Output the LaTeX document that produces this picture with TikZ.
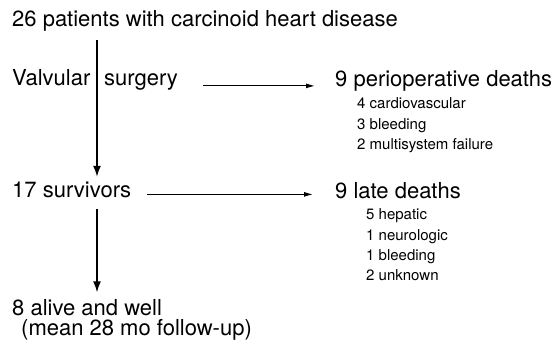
\documentclass[tikz,border=0pt]{standalone}
\usepackage{fontspec}
\setmainfont{TeX Gyre Heros}
\usetikzlibrary{arrows.meta,calc}

\begin{document}
\begin{tikzpicture}[x=1pt,y=1pt]
\tikzstyle{lbl}=[anchor=base west,inner sep=0pt,font=\fontsize{22}{24}\selectfont]
\tikzstyle{sub}=[anchor=base west,inner sep=0pt,font=\fontsize{15}{17}\selectfont]
\tikzstyle{vflow}=[line width=1.6pt,-{Latex[length=11pt,width=8pt]}]
\tikzstyle{hflow}=[line width=1.1pt,-{Latex[length=9pt,width=5pt]}]
\useasboundingbox (0,0) rectangle (555,349);
\coordinate (spine) at (97,0);
% left column
\node[lbl] (title) at (12,322) {26 patients with carcinoid heart disease};
\node[lbl] (valv)  at (12,263) {Valvular};
\node[lbl] (surg)  at (104,263) {surgery};
\node[lbl] (surv)  at (12,152) {17 survivors};
\node[lbl] (alive) at (12,34)  {8 alive and well};
\node[lbl] (mean)  at (21,14)  {(mean 28 mo follow-up)};
% right column
\node[lbl] (peri) at (335,262) {9 perioperative deaths};
\foreach \txt [count=\i] in {4 cardiovascular,3 bleeding,2 multisystem failure}
  \node[sub] (peri\i) at (357,261-20.5*\i) {\txt};
\node[lbl] (late) at (335,151) {9 late deaths};
\foreach \txt [count=\i] in {5 hepatic,1 neurologic,1 bleeding,2 unknown}
  \node[sub] (late\i) at (366,149.5-20.3*\i) {\txt};
% arrows
\draw[vflow,shorten <=8pt,shorten >=4.4pt] (title.south -| spine) -- (surv.north -| spine);
\draw[vflow,shorten <=11pt,shorten >=6.4pt] (surv.south -| spine) -- (alive.north -| spine);
\draw[hflow,shorten <=25pt,shorten >=20pt] ([yshift=-2.5pt]surg.mid east) -- ([yshift=-2.5pt]surg.mid east -| peri.west);
\draw[hflow,shorten <=16pt,shorten >=22pt] (surv.mid east) -- (surv.mid east -| late.west);
\end{tikzpicture}
\end{document}
